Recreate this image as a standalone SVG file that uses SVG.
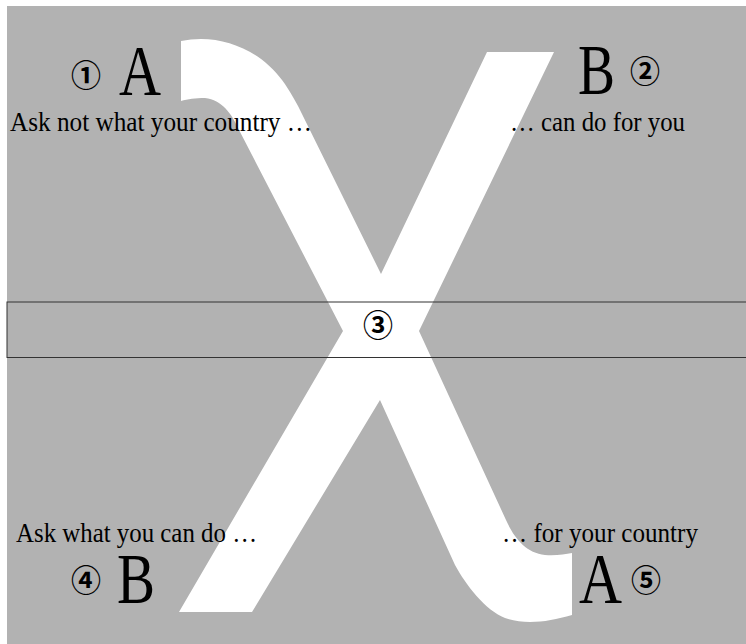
<svg xmlns="http://www.w3.org/2000/svg" width="746" height="644" viewBox="0 0 746 644">
  <style>
    .phrase { font-family: "Liberation Serif", "Times New Roman", serif; font-size: 28px; fill: #000; }
    .big { font-family: "Liberation Serif", "Times New Roman", serif; font-size: 71px; fill: #000; }
    .num { font-family: "Noto Sans CJK JP", "DejaVu Sans", sans-serif; font-size: 30px; font-weight: 600; fill: #000; text-anchor: middle; }
  </style>
  <rect id="background" x="7" y="6" width="739" height="638" fill="#b2b2b2"/>
  <g id="chi">
    <path fill="#ffffff" d="M181,41 C218,33 258,48 282,80 C290,91 296,102 300,110 L381,274 L487,52 L554,52 L419,331 L506,520 C514,538 526,553 545,555 C556,556 565,554 572,553 L572,615 C548,622 525,625 505,618 C485,610 466,585 455,565 L380,400 L252,612 L179,612 L343,331 L238,128 C232,114 222,100 205,98 C195,98 188,99 181,101 Z"/>
  </g>
  <g id="band">
    <rect x="7" y="302" width="745" height="55.5" fill="none" stroke="#333333" stroke-width="1"/>
  </g>
  <g id="node-1">
    <text class="num" x="86" y="86">①</text>
    <text class="big" x="119" y="95" textLength="42" lengthAdjust="spacingAndGlyphs">A</text>
    <text class="phrase" x="10" y="131" textLength="302" lengthAdjust="spacingAndGlyphs">Ask not what your country …</text>
  </g>
  <g id="node-2">
    <text class="big" x="578" y="94" textLength="37" lengthAdjust="spacingAndGlyphs">B</text>
    <text class="num" x="645" y="82">②</text>
    <text class="phrase" x="510" y="131" textLength="175" lengthAdjust="spacingAndGlyphs">… can do for you</text>
  </g>
  <g id="node-3">
    <text class="num" x="378" y="336">③</text>
  </g>
  <g id="node-4">
    <text class="phrase" x="16" y="542" textLength="241" lengthAdjust="spacingAndGlyphs">Ask what you can do …</text>
    <text class="num" x="86" y="591">④</text>
    <text class="big" x="117" y="603" textLength="38" lengthAdjust="spacingAndGlyphs">B</text>
  </g>
  <g id="node-5">
    <text class="phrase" x="502" y="542" textLength="196" lengthAdjust="spacingAndGlyphs">… for your country</text>
    <text class="big" x="579" y="603" textLength="43" lengthAdjust="spacingAndGlyphs">A</text>
    <text class="num" x="646" y="591">⑤</text>
  </g>
</svg>
